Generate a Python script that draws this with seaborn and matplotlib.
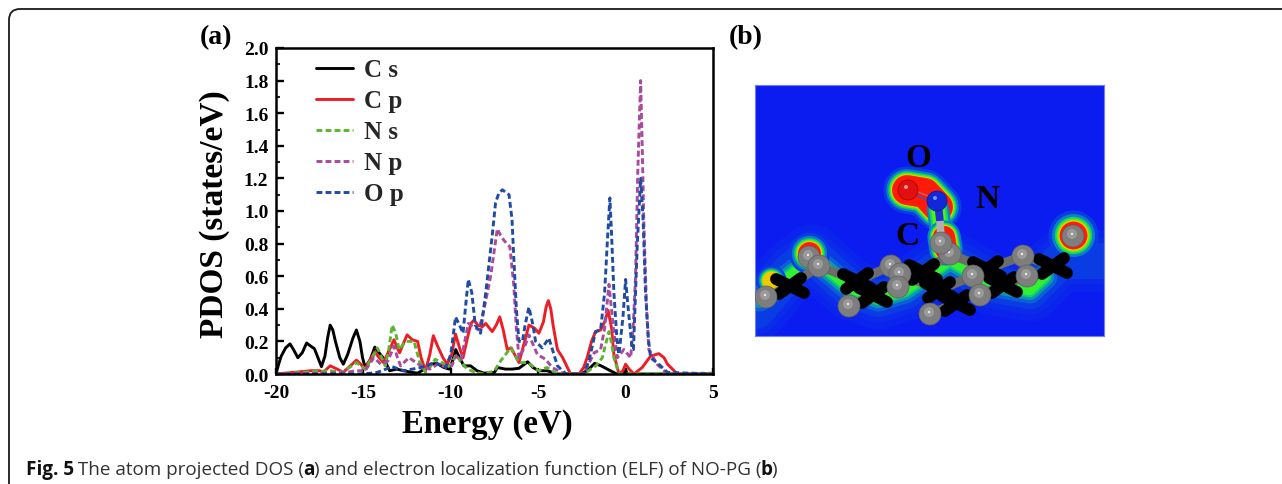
"""Atom projected DOS (a) and ELF map (b) of NO-PG."""
import matplotlib
matplotlib.use("Agg")
import matplotlib.pyplot as plt
from matplotlib.patches import Circle, FancyBboxPatch
from matplotlib.ticker import MultipleLocator
import pandas as pd
import seaborn as sns

W, H = 1282, 485

# PDOS curves
CS_E = [-20, -19.85, -19.7, -19.45, -19.2, -19.0, -18.75, -18.5, -18.25, -18.0, -17.8, -17.6, -17.4,
        -17.2, -17.05, -16.9, -16.75, -16.6, -16.35, -16.15, -15.9, -15.6, -15.4, -15.2, -15.05, -14.9,
        -14.6, -14.35, -14.1, -13.8, -13.5, -13.1, -12.7, -12.2, -11.9, -11.5, -11.2, -10.8, -10.4, -10.1,
        -9.9, -9.72, -9.5, -9.25, -8.87, -8.5, -8.1, -7.5, -7.34, -6.87, -6.5, -6.1, -5.6, -5.3, -4.97,
        -4.5, -3.9, -2.6, -2.2, -1.77, -1.4, -1.05, -0.5, -0.1, 0.0, 0.1, 0.4, 5]
CS_P = [0.0, 0.06, 0.11, 0.16, 0.185, 0.15, 0.10, 0.13, 0.19, 0.17, 0.155, 0.10, 0.045,
        0.11, 0.22, 0.30, 0.27, 0.20, 0.10, 0.06, 0.12, 0.22, 0.27, 0.20, 0.10, 0.04,
        0.09, 0.165, 0.13, 0.09, 0.02, 0.03, 0.02, 0.01, 0.005, 0.03, 0.06, 0.065, 0.04, 0.03,
        0.08, 0.15, 0.10, 0.05, 0.05, 0.02, 0.005, 0.01, 0.04, 0.03, 0.03, 0.035, 0.075, 0.04, 0.02,
        0.02, 0.0, 0.0, 0.02, 0.065, 0.05, 0.03, 0.0, 0.0, 0.025, 0.0, 0.0, 0.0]

CP_E = [-20, -19, -18, -17.5, -17.3, -16.9, -16.5, -16.15, -15.75, -15.4, -15.15, -14.9, -14.6, -14.35,
        -14.1, -13.85, -13.55, -13.25, -13.1, -12.93, -12.7, -12.5, -12.2, -11.9, -11.7, -11.45, -11.2,
        -11.0, -10.75, -10.45, -10.2, -9.95, -9.73, -9.5, -9.3, -9.05, -8.85, -8.68, -8.45, -8.2, -8.0,
        -7.63, -7.4, -7.2, -7.0, -6.77, -6.54, -6.3, -6.1, -5.85, -5.53, -5.2, -4.96, -4.7, -4.55, -4.42,
        -4.28, -4.15, -3.9, -3.6, -3.15, -2.67, -2.4, -2.2, -1.95, -1.72, -1.43, -1.2, -1.0, -0.8, -0.67,
        -0.38, -0.15, 0.0, 0.2, 0.48, 0.95, 1.43, 1.9, 2.2, 2.4, 2.96, 5]
CP_P = [0.0, 0.01, 0.02, 0.02, 0.01, 0.05, 0.03, 0.01, 0.05, 0.085, 0.06, 0.03, 0.09, 0.135,
        0.10, 0.07, 0.14, 0.21, 0.17, 0.13, 0.19, 0.24, 0.21, 0.20, 0.10, 0.02, 0.12,
        0.235, 0.17, 0.10, 0.06, 0.12, 0.245, 0.16, 0.10, 0.22, 0.31, 0.33, 0.30, 0.29, 0.31,
        0.26, 0.30, 0.35, 0.27, 0.15, 0.16, 0.11, 0.07, 0.17, 0.30, 0.28, 0.25, 0.32, 0.41, 0.45,
        0.40, 0.30, 0.15, 0.10, 0.0, 0.0, 0.04, 0.10, 0.20, 0.26, 0.27, 0.32, 0.39, 0.28, 0.12,
        0.0, 0.02, 0.06, 0.03, 0.0, 0.04, 0.11, 0.125, 0.10, 0.06, 0.0, 0.0]

NS_E = [-20, -16.9, -16.2, -15.4, -14.9, -14.5, -14.2, -13.95, -13.75, -13.55, -13.35, -13.15, -12.96,
        -12.58, -12.1, -11.8, -11.45, -11.2, -10.9, -10.5, -10.2, -9.97, -9.7, -9.4, -9.05, -8.6, -8.1,
        -7.5, -7.15, -6.58, -6.3, -6.1, -5.6, -4.97, -4.5, -3.9, -2.4, -1.7, -1.33, -1.15, -0.95, -0.8,
        -0.67, -0.38, 5]
NS_P = [0.0, 0.02, 0.01, 0.07, 0.03, 0.10, 0.16, 0.10, 0.05, 0.15, 0.30, 0.25, 0.15,
        0.20, 0.20, 0.08, 0.01, 0.04, 0.09, 0.07, 0.04, 0.06, 0.12, 0.07, 0.03, 0.01, 0.0,
        0.02, 0.08, 0.16, 0.11, 0.07, 0.07, 0.02, 0.04, 0.0, 0.0, 0.05, 0.10, 0.18, 0.26, 0.19,
        0.10, 0.0, 0.005]

NP_E = [-20, -17, -16, -15.4, -14.9, -14.4, -14.0, -13.6, -13.25, -13.05, -12.87, -12.4, -11.7, -11.2,
        -10.75, -10.2, -9.95, -9.7, -9.4, -9.2, -9.0, -8.4, -8.2, -8.0, -7.72, -7.34, -7.15, -6.96, -6.62,
        -6.4, -6.25, -6.1, -5.8, -5.53, -5.05, -4.58, -4.2, -3.5, -2.4, -1.8, -1.43, -1.2, -0.95, -0.7,
        -0.47, -0.1, 0.29, 0.43, 0.57, 0.7, 0.86, 0.95, 1.05, 1.2, 1.33, 1.8, 2.4, 5]
NP_P = [0.0, 0.005, 0.01, 0.02, 0.02, 0.10, 0.06, 0.08, 0.17, 0.10, 0.05, 0.10, 0.05, 0.03,
        0.06, 0.04, 0.05, 0.11, 0.09, 0.20, 0.31, 0.27, 0.35, 0.45, 0.60, 0.89, 0.85, 0.82, 0.78,
        0.55, 0.28, 0.10, 0.16, 0.24, 0.12, 0.09, 0.04, 0.0, 0.0, 0.13, 0.15, 0.28, 0.55, 0.28,
        0.10, 0.15, 0.10, 0.28, 0.60, 1.25, 1.80, 1.40, 0.90, 0.40, 0.15, 0.06, 0.0, 0.0]

OP_E = [-20, -15, -14.2, -13.35, -12.7, -11.7, -10.9, -10.3, -10.0, -9.73, -9.5, -9.3, -9.15, -9.0, -8.8,
        -8.6, -8.3, -8.0, -7.63, -7.44, -7.25, -7.05, -6.67, -6.5, -6.39, -6.25, -6.1, -5.9, -5.75, -5.53,
        -5.3, -5.15, -4.77, -4.39, -4.1, -3.9, -3.4, -2.4, -2.1, -1.72, -1.43, -1.2, -1.05, -0.9, -0.8,
        -0.67, -0.5, -0.38, -0.15, 0.0, 0.15, 0.38, 0.45, 0.67, 0.86, 1.0, 1.14, 1.3, 1.43, 1.9, 2.4, 5]
OP_P = [0.0, 0.0, 0.01, 0.045, 0.02, 0.04, 0.07, 0.04, 0.12, 0.35, 0.30, 0.25, 0.42, 0.58, 0.50,
        0.30, 0.25, 0.50, 0.85, 1.05, 1.11, 1.13, 1.10, 0.95, 0.70, 0.40, 0.20, 0.20, 0.30, 0.41,
        0.30, 0.20, 0.16, 0.22, 0.12, 0.05, 0.0, 0.0, 0.08, 0.26, 0.27, 0.50, 0.80, 1.08, 0.85,
        0.50, 0.22, 0.12, 0.35, 0.58, 0.40, 0.15, 0.15, 0.80, 1.20, 0.95, 0.50, 0.22, 0.10, 0.06, 0.01, 0.0]

SERIES = ["C s", "C p", "N s", "N p", "O p"]
COLORS = ["#000000", "#ee1c25", "#5cb531", "#a9499f", "#1f4ba5"]
Y_TICKS = [0.0, 0.2, 0.4, 0.6, 0.8, 1.0, 1.2, 1.4, 1.6, 1.8, 2.0]
X_TICKS = [-20, -15, -10, -5, 0, 5]

# ELF map: atoms and glow paths, in reference pixels
HOT_PATH_X = [907, 925, 938]
HOT_PATH_Y = [191, 194, 208]
NECK_PATH_X = [944, 946]
NECK_PATH_Y = [238, 250]
LINK_PATH_X = [938, 942]
LINK_PATH_Y = [210, 240]
SPOT_X = [1073, 809]
SPOT_Y = [236, 254]
SPOT_SIZE = [1.0, 0.82]
WARM_X = [771]
WARM_Y = [281]
FAINT_X = [756, 790, 812, 850, 878, 905, 950, 990, 1030, 1060, 1104]
FAINT_Y = [312, 272, 256, 290, 300, 292, 262, 285, 292, 262, 262]
BAND_X = [760, 790, 812, 850, 878, 905, 950, 990, 1030, 1045]
BAND_Y = [300, 276, 258, 290, 300, 292, 262, 285, 292, 278]
GRAY_X = [809, 819, 766, 849, 891, 900, 898, 930, 950, 941, 973, 980, 1023, 1027, 1073]
GRAY_Y = [258, 267, 298, 307, 267, 275, 288, 315, 255, 244, 277, 296, 257, 277, 237]
BLACK_X = [790, 857, 873, 923, 939, 956, 987, 1003, 1053]
BLACK_Y = [287, 282, 296, 273, 291, 304, 270, 286, 267]
GRAY_BONDS = [(819, 267, 857, 282), (857, 282, 891, 267), (900, 275, 939, 291), (950, 255, 923, 273),
              (950, 255, 987, 270), (987, 270, 1023, 257), (973, 277, 939, 291), (1023, 257, 1053, 267),
              (819, 267, 790, 287), (941, 244, 950, 255), (766, 298, 790, 287), (849, 307, 873, 296),
              (930, 315, 956, 304), (1027, 277, 1003, 286), (980, 296, 1003, 286)]
ELF_LABELS = [("O", 918, 159), ("N", 987, 200), ("C", 907, 237)]

sns.set_theme(style="ticks")
plt.rcParams["font.family"] = ["Liberation Serif", "DejaVu Serif"]
plt.rcParams["font.weight"] = "bold"
plt.rcParams["axes.unicode_minus"] = False


def make_frame(energy, pdos, name):
    return pd.DataFrame({"energy": energy, "pdos": pdos, "orbital": name})


def add_box(fig, x0, y0, x1, y1):
    return fig.add_axes([x0 / W, 1 - y1 / H, (x1 - x0) / W, (y1 - y0) / H])


def draw_pdos(fig):
    ax = add_box(fig, 276, 49, 713, 375)
    df = pd.concat([make_frame(CS_E, CS_P, "C s"), make_frame(CP_E, CP_P, "C p"),
                    make_frame(NS_E, NS_P, "N s"), make_frame(NP_E, NP_P, "N p"),
                    make_frame(OP_E, OP_P, "O p")])
    sns.lineplot(data=df, x="energy", y="pdos", hue="orbital", style="orbital",
                 hue_order=SERIES, style_order=SERIES, palette=COLORS,
                 dashes={"C s": "", "C p": "", "N s": (2.0, 1.1), "N p": (2.0, 1.1), "O p": (2.0, 1.1)},
                 estimator=None, sort=False, linewidth=2.1, ax=ax)
    for line in ax.get_lines():
        line.set_solid_joinstyle("round")
    ax.set_xlim(-20, 5)
    ax.set_ylim(0, 2)
    ax.set_xticks(X_TICKS)
    ax.set_yticks(Y_TICKS)
    ax.yaxis.set_major_formatter(lambda v, _: f"{v:.1f}")
    ax.yaxis.set_minor_locator(MultipleLocator(0.1))
    ax.tick_params(axis="y", which="major", direction="in", length=6, width=1.7,
                   labelsize=14, pad=5.5, color="black", labelcolor="black")
    ax.tick_params(axis="x", which="major", direction="in", length=4, width=1.7,
                   labelsize=14, pad=7, color="black", labelcolor="black")
    ax.tick_params(axis="y", which="minor", direction="in", length=3, width=1.5)
    for lab in ax.get_xticklabels() + ax.get_yticklabels():
        lab.set_fontweight("bold")
    for s in ax.spines.values():
        s.set_linewidth(1.8)
        s.set_color("black")
    ax.set_xlabel("")
    ax.set_ylabel("")
    handles, labels = ax.get_legend_handles_labels()
    ax.legend(handles, labels, loc="upper left", bbox_to_anchor=(0.085, 0.976), frameon=False,
              prop={"family": "Liberation Serif", "weight": "bold", "size": 18},
              handlelength=1.5, handletextpad=0.45, labelspacing=0.32, borderpad=0.1, borderaxespad=0)
    for line in ax.get_legend().get_lines():
        line.set_linewidth(2.1)
    fig.text(215 / W, 1 - 214 / H, "PDOS (states/eV)", rotation=90, ha="center", va="center",
             fontsize=24, fontweight="bold", color="black")
    fig.text(487 / W, 1 - 425 / H, "Energy (eV)", ha="center", va="center",
             fontsize=23.6, fontweight="bold", color="black")


def stroke(ax, xs, ys, layers, zorder):
    for lw, col in layers:
        ax.plot(xs, ys, color=col, lw=lw, solid_capstyle="round", solid_joinstyle="round", zorder=zorder)


def draw_elf(fig):
    ax = add_box(fig, 755, 86, 1104, 337)
    ax.set_xlim(755, 1104)
    ax.set_ylim(337, 86)
    ax.set_facecolor("#0a1cf0")
    ax.set_xticks([])
    ax.set_yticks([])
    for s in ax.spines.values():
        s.set_color("#6f7ff5")
        s.set_linewidth(0.8)
    # soft ELF halo, widest colour first
    faint = [(44, "#0a24ee"), (34, "#0a2cea"), (26, "#0a3ce4")]
    band = [(18, "#0a60d8"), (13, "#0a98b0"), (9, "#10d070"), (6, "#30f030")]
    hot = [(34, "#0a3ce4"), (30, "#0a80c8"), (27, "#10d070"), (25, "#50f010"), (23, "#d0d800"), (21.5, "#ff1a0a")]
    link = [(16, "#0a80c8"), (13, "#10d070"), (10, "#50f010")]
    neck = [(24, "#0a80c8"), (21, "#10d070"), (19, "#50f010"), (17.5, "#d0d800"), (16, "#ff1a0a")]
    spot = [(36, "#0a3ce4"), (31, "#0a80c8"), (27, "#10d070"), (24.5, "#50f010"), (22, "#f0c800"), (20, "#ff1a0a")]
    stroke(ax, FAINT_X, FAINT_Y, faint, 1)
    stroke(ax, BAND_X, BAND_Y, band, 1)
    stroke(ax, HOT_PATH_X, HOT_PATH_Y, hot, 2)
    stroke(ax, LINK_PATH_X, LINK_PATH_Y, link, 2)
    stroke(ax, NECK_PATH_X, NECK_PATH_Y, neck, 2)
    for x, y, k in zip(SPOT_X, SPOT_Y, SPOT_SIZE):
        for lw, col in spot:
            ax.plot([x], [y], "o", ms=lw * k, color=col, mew=0, zorder=2)
    for x, y in zip(WARM_X, WARM_Y):
        for lw, col in spot[:5]:
            ax.plot([x], [y], "o", ms=lw * 0.6, color=col, mew=0, zorder=2)
    for x0, y0, x1, y1 in GRAY_BONDS:
        ax.plot([x0, x1], [y0, y1], color="#6c6c6c", lw=6.5, solid_capstyle="butt", zorder=3)
    ax.plot([938, 940], [205, 222], color="#2030d0", lw=5.5, zorder=3, solid_capstyle="butt")
    ax.plot([940, 941], [222, 240], color="#b0b0b0", lw=5.5, zorder=3, solid_capstyle="butt")
    ax.plot([908, 936], [189, 200], color="#c06070", lw=1, zorder=3)
    ax.plot([908, 936], [193, 204], color="#4050c0", lw=1, zorder=3)
    # black carbons drawn as stubby crosses
    for x, y in zip(BLACK_X, BLACK_Y):
        ax.plot([x - 14, x + 14], [y - 7, y + 7], color="black", lw=8.5, solid_capstyle="round", zorder=4)
        ax.plot([x - 11, x + 11], [y + 8, y - 8], color="black", lw=8.5, solid_capstyle="round", zorder=4)
    for x, y in zip(GRAY_X, GRAY_Y):
        ax.add_patch(Circle((x, y), 11, fc="#7e7e7e", ec="#5f5f5f", lw=0.5, zorder=5))
        ax.add_patch(Circle((x - 1, y - 2), 5, fc="#9a9a9a", ec="none", zorder=5))
        ax.add_patch(Circle((x - 1, y - 2), 1.2, fc="#e8e8e8", ec="none", zorder=5))
    ax.add_patch(Circle((908, 191), 10, fc="#e01010", ec="#a00000", lw=0.5, zorder=6))
    ax.add_patch(Circle((906, 188), 2, fc="#ff9090", ec="none", zorder=6))
    ax.add_patch(Circle((937, 202), 10, fc="#1028d8", ec="#0a1a90", lw=0.5, zorder=6))
    ax.add_patch(Circle((935, 199), 2, fc="#8090ff", ec="none", zorder=6))
    for s, x, y in ELF_LABELS:
        ax.text(x, y, s, ha="center", va="center", fontsize=24, fontweight="bold", color="black", zorder=7)


def draw_caption(fig):
    renderer = fig.canvas.get_renderer()
    x = 26
    pieces = [("Fig. 5", "bold"), (" The atom projected DOS (", "normal"), ("a", "bold"),
              (") and electron localization function (ELF) of NO-PG (", "normal"), ("b", "bold"), (")", "normal")]
    for s, weight in pieces:
        t = fig.text(x / W, 1 - 470 / H, s, fontsize=13.56, fontweight=weight, family="Open Sans",
                     color="#111111" if weight == "bold" else "#333333", ha="left", va="center")
        x += t.get_window_extent(renderer).width - 1


def main():
    fig = plt.figure(figsize=(W / 100, H / 100), dpi=100)
    # rounded frame running off the right and bottom of the page
    bg = fig.add_axes([0, 0, 1, 1])
    bg.set_xlim(0, W)
    bg.set_ylim(H, 0)
    bg.axis("off")
    bg.add_patch(FancyBboxPatch((9, 10), 1400, 600, boxstyle="round,pad=0,rounding_size=11",
                                fc="none", ec="#1a1a1a", lw=1.3))
    draw_pdos(fig)
    draw_elf(fig)
    fig.text(216 / W, 1 - 38 / H, "(a)", ha="center", va="center", fontsize=20, fontweight="bold", color="black")
    fig.text(746 / W, 1 - 38 / H, "(b)", ha="center", va="center", fontsize=20, fontweight="bold", color="black")
    draw_caption(fig)
    fig.savefig("out.png", dpi=100)
    plt.close(fig)


if __name__ == "__main__":
    main()
